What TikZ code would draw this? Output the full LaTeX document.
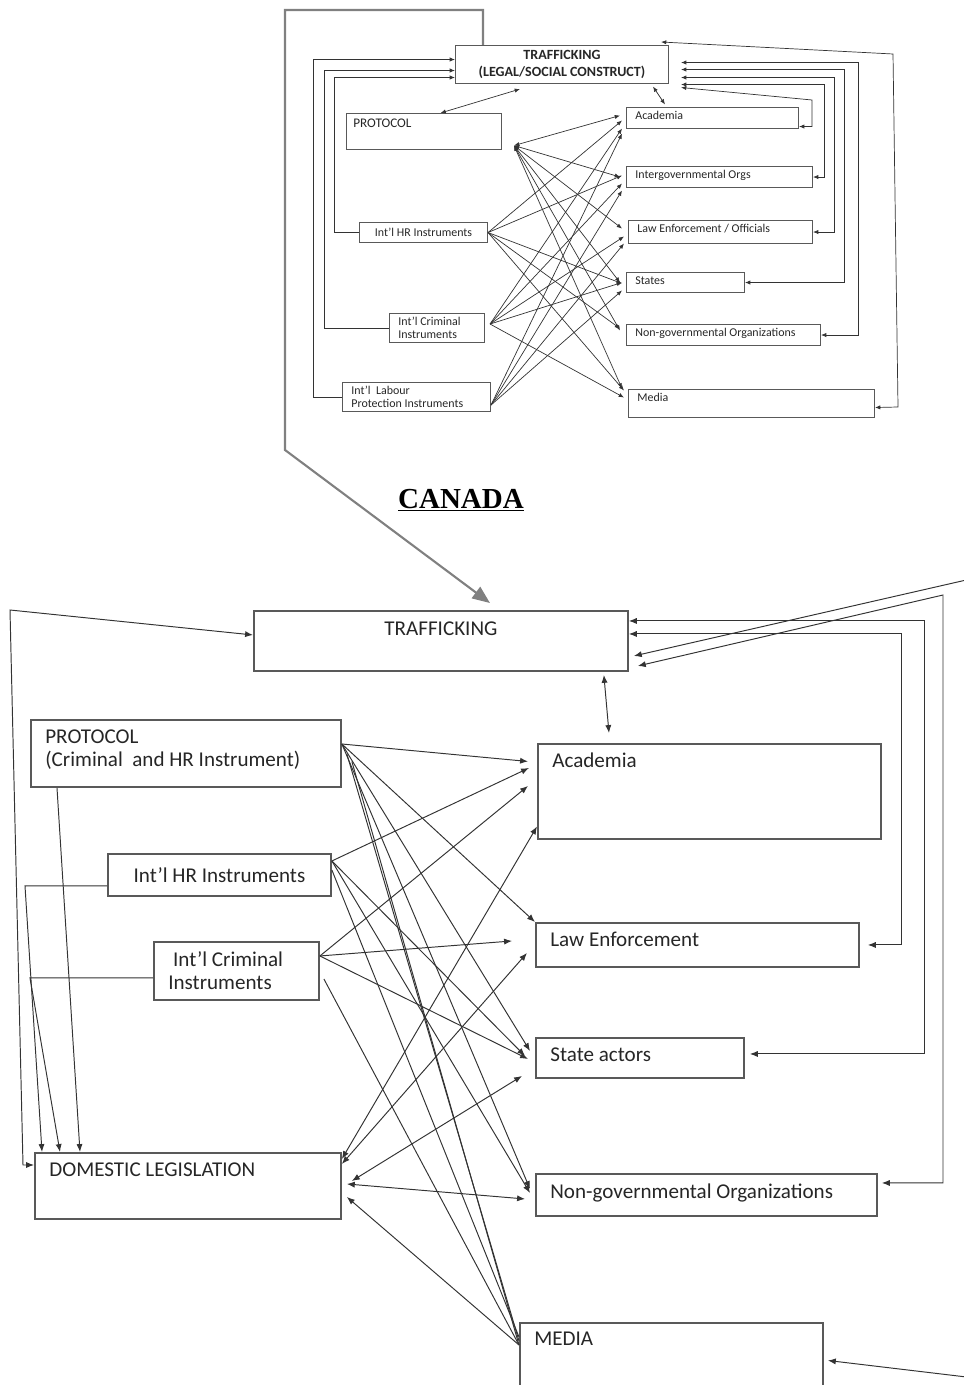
\documentclass[tikz,border=0pt]{standalone}
\usepackage{fontspec}
\setmainfont{Carlito}
\newfontfamily\titlefont{Liberation Serif}
\usetikzlibrary{arrows.meta, positioning}
\tikzstyle{box} = [draw=black!65, line width=1.1pt, anchor=north west, inner sep=0pt]
\tikzstyle{sbox} = [draw=black!65, line width=0.6pt, anchor=north west, inner sep=0pt]
\tikzstyle{txt} = [anchor=north west, inner xsep=0.3cm, inner ysep=0.2cm, align=left, text=black!85, font=\fontsize{12}{13.5}\selectfont]
\tikzstyle{stxt} = [anchor=north west, inner xsep=0.18cm, inner ysep=0.08cm, align=left, text=black!85, font=\fontsize{6.8}{7.2}\selectfont]
\tikzstyle{line} = [draw=black!80, line width=0.55pt]
\tikzstyle{arr} = [line, -{Latex[length=4.5pt, width=3.5pt]}]
\tikzstyle{dbl} = [line, {Latex[length=4.5pt, width=3.5pt]}-{Latex[length=4.5pt, width=3.5pt]}]
\tikzstyle{sarr} = [line, line width=0.4pt, -{Latex[length=3pt, width=2.4pt]}]
\tikzstyle{sdbl} = [line, line width=0.4pt, {Latex[length=3pt, width=2.4pt]}-{Latex[length=3pt, width=2.4pt]}]
\tikzstyle{bigarr} = [draw=black!50, line width=1.2pt, -{Triangle[length=10pt, width=8pt]}]

\begin{document}
\begin{tikzpicture}[x=0.02cm, y=-0.02cm]
	\useasboundingbox (0,0) rectangle (963,1385);

	% international level
	\node [sbox, minimum width=4.26cm, minimum height=0.76cm, label={[stxt, anchor=north, align=center, inner ysep=0.1cm, font=\fontsize{8}{9.5}\selectfont\bfseries]north:TRAFFICKING\\(LEGAL/SOCIAL CONSTRUCT)}] (t1) at (455,45) {};
	\node [sbox, minimum width=3.1cm, minimum height=0.72cm, label={[stxt, inner xsep=0.14cm, inner ysep=0.12cm, font=\fontsize{7.5}{9}\selectfont]north west:PROTOCOL}] (p1) at (346,113) {};
	\node [sbox, minimum width=2.56cm, minimum height=0.4cm, label={[stxt, anchor=center]center:Int’l HR Instruments}] (hr1) at (359,222) {};
	\node [sbox, minimum width=1.9cm, minimum height=0.58cm, label={[stxt]north west:Int’l Criminal\\Instruments}] (cr1) at (389,313) {};
	\node [sbox, minimum width=2.96cm, minimum height=0.58cm, label={[stxt]north west:Int’l\ \ Labour\\Protection Instruments}] (lb1) at (342,382) {};
	\node [sbox, minimum width=3.44cm, minimum height=0.42cm, label={[stxt]north west:Academia}] (ac1) at (626,107) {};
	\node [sbox, minimum width=3.72cm, minimum height=0.42cm, label={[stxt]north west:Intergovernmental Orgs}] (ig1) at (626,166) {};
	\node [sbox, minimum width=3.68cm, minimum height=0.46cm, label={[stxt]north west:Law Enforcement / Officials}] (le1) at (628,220) {};
	\node [sbox, minimum width=2.36cm, minimum height=0.4cm, label={[stxt]north west:States}] (st1) at (626,272) {};
	\node [sbox, minimum width=3.88cm, minimum height=0.42cm, label={[stxt]north west:Non-governmental Organizations}] (ng1) at (626,324) {};
	\node [sbox, minimum width=4.92cm, minimum height=0.56cm, label={[stxt]north west:Media}] (me1) at (628,389) {};
	\coordinate (hub) at ([xshift=0.24cm,yshift=-0.28cm]p1.east);

	\path [sarr] (lb1.west) -- ++(-29,0) |- ([yshift=0.1cm]t1.west);
	\path [sarr] (cr1.west) -- ++(-65,0) |- ([yshift=-0.12cm]t1.west);
	\path [sarr] (hr1.west) -- ++(-25,0) |- ([yshift=-0.26cm]t1.west);
	\path [sdbl] ([xshift=0.33cm]p1.north) -- ([xshift=1.3cm,yshift=-0.1cm]t1.south west);
	\path [sdbl] ([xshift=-0.32cm,yshift=-0.05cm]t1.south east) -- ([xshift=0.78cm,yshift=0.05cm]ac1.north west);
	\path [sdbl] ([xshift=0.24cm,yshift=-0.46cm]t1.east) -- (812,100) |- ([yshift=-0.17cm]ac1.east);
	\path [sdbl] ([xshift=0.24cm,yshift=-0.4cm]t1.east) -- ++(143,0) |- (ig1.east);
	\path [sdbl] ([xshift=0.24cm,yshift=-0.26cm]t1.east) -- ++(153,0) |- (le1.east);
	\path [sdbl] ([xshift=0.24cm,yshift=-0.1cm]t1.east) -- ++(163,0) |- (st1.east);
	\path [sdbl] ([xshift=0.24cm,yshift=0.04cm]t1.east) -- ++(177,0) |- (ng1.east);
	\path [sdbl] ([xshift=-0.16cm,yshift=0.06cm]t1.north east) -- (893,54) -- (898,407) -- ([yshift=-0.08cm]me1.east);

	\path [sdbl] (hub) -- ([xshift=-0.12cm,yshift=0.05cm]ac1.west);
	\path [sdbl] (hub) -- ([xshift=-0.12cm]ig1.west);
	\path [sdbl] (hub) -- ([xshift=-0.12cm,yshift=0.07cm]le1.west);
	\path [sdbl] (hub) -- ([xshift=-0.12cm]st1.west);
	\path [sdbl] (hub) -- ([xshift=-0.12cm,yshift=0.09cm]ng1.west);
	\path [sdbl] (hub) -- ([xshift=-0.12cm,yshift=0.3cm]me1.west);
	\path [sarr] (hr1.east) -- ([xshift=-0.08cm,yshift=-0.05cm]ac1.west);
	\path [sarr] (hr1.east) -- ([xshift=-0.08cm,yshift=0.03cm]ig1.west);
	\path [sarr] (hr1.east) -- ([xshift=-0.08cm,yshift=-0.02cm]st1.west);
	\path [sarr] (hr1.east) -- ([xshift=-0.12cm,yshift=0.13cm]ng1.west);
	\path [sarr] (hr1.east) -- ([xshift=-0.08cm,yshift=0.26cm]me1.west);
	\path [sarr] ([xshift=0.1cm,yshift=0.08cm]cr1.east) -- ([xshift=-0.08cm,yshift=-0.21cm]ac1.west);
	\path [sarr] ([xshift=0.1cm,yshift=0.08cm]cr1.east) -- ([xshift=-0.08cm,yshift=-0.13cm]ig1.west);
	\path [sarr] ([xshift=0.1cm,yshift=0.08cm]cr1.east) -- ([xshift=-0.08cm,yshift=-0.09cm]le1.west);
	\path [sarr] ([xshift=0.1cm,yshift=0.08cm]cr1.east) -- ([xshift=-0.08cm]st1.west);
	\path [sarr] ([xshift=0.1cm,yshift=0.08cm]cr1.east) -- ([xshift=-0.08cm,yshift=0.12cm]me1.west);
	\path [sarr] ([yshift=-0.16cm]lb1.east) -- ([xshift=-0.08cm,yshift=-0.31cm]ac1.west);
	\path [sarr] ([yshift=-0.16cm]lb1.east) -- ([xshift=-0.08cm,yshift=-0.27cm]ig1.west);
	\path [sarr] ([yshift=-0.16cm]lb1.east) -- ([xshift=-0.08cm,yshift=-0.23cm]le1.west);
	\path [sarr] ([yshift=-0.16cm]lb1.east) -- ([xshift=-0.08cm,yshift=-0.16cm]st1.west);

	% Canada
	\node [anchor=base, font=\titlefont\bfseries\fontsize{16.5}{20}\selectfont] (canada) at (461,508) {\underline{CANADA}};

	\node [box, minimum width=7.48cm, minimum height=1.2cm, label={[txt, anchor=north, inner ysep=0.22cm]north:TRAFFICKING}] (t2) at (253,610) {};
	\node [box, minimum width=6.2cm, minimum height=1.34cm, label={[txt]north west:PROTOCOL\\(Criminal\ \ and HR Instrument)}] (p2) at (30,719) {};
	\node [box, minimum width=4.46cm, minimum height=0.84cm, label={[txt, anchor=center]center:Int’l HR Instruments}] (hr2) at (107,853) {};
	\node [box, minimum width=3.3cm, minimum height=1.16cm, label={[txt]north west:\ Int’l Criminal\\Instruments}] (cr2) at (153,941) {};
	\node [box, minimum width=6.12cm, minimum height=1.32cm, label={[txt]north west:DOMESTIC LEGISLATION}] (dl) at (34,1152) {};
	\node [box, minimum width=6.86cm, minimum height=1.9cm, label={[txt]north west:Academia}] (ac2) at (537,743) {};
	\node [box, minimum width=6.46cm, minimum height=0.88cm, label={[txt]north west:Law Enforcement}] (le2) at (535,922) {};
	\node [box, minimum width=4.16cm, minimum height=0.8cm, label={[txt]north west:State actors}] (sa2) at (535,1037) {};
	\node [box, minimum width=6.82cm, minimum height=0.84cm, label={[txt]north west:Non-governmental Organizations}] (ng2) at (535,1173) {};
	\node [box, minimum width=6.06cm, minimum height=1.5cm, label={[txt]north west:MEDIA}] (me2) at (519,1322) {};
	\coordinate (ne) at (975,578);
	\coordinate (se) at (975,1378);

	\path [bigarr] ([xshift=0.56cm]t1.north west) -- ++(0,-35) -| (285,450) -- ([xshift=4.74cm,yshift=0.14cm]t2.north west);

	\path [dbl] ([xshift=-0.5cm,yshift=-0.06cm]t2.south east) -- ([xshift=1.44cm,yshift=0.2cm]ac2.north west);
	\path [dbl] ([yshift=0.14cm]t2.east) -- ++(273,0) |- ([xshift=0.16cm]le2.east);
	\path [dbl] ([yshift=0.4cm]t2.east) -- ++(296,0) |- ([xshift=0.1cm,yshift=0.08cm]sa2.east);
	\path [dbl] ([xshift=0.18cm,yshift=-0.5cm]t2.east) -- (943,595) |- ([xshift=0.08cm,yshift=0.24cm]ng2.east);
	\path [arr] (ne) -- ([xshift=0.1cm,yshift=-0.3cm]t2.east);
	\path [arr] (se) -- ([xshift=0.08cm]me2.east);

	\path [dbl] ([yshift=0.12cm]t2.west) -- (10,610) -- (23,1165) -- ([yshift=-0.26cm]dl.north west);
	\path [arr] ([yshift=-0.22cm]hr2.west) -- ++(-82,0) -- ([xshift=0.16cm]dl.north west);
	\path [arr] ([yshift=-0.14cm]cr2.west) -- ++(-123,0) -- ([xshift=0.52cm]dl.north west);
	\path [arr] ([xshift=0.54cm]p2.south west) -- ([xshift=0.92cm]dl.north west);

	\path [arr] ([yshift=-0.5cm]p2.north east) -- ([xshift=-0.18cm,yshift=0.6cm]ac2.west);
	\path [arr] ([yshift=-0.5cm]p2.north east) -- (le2.north west);
	\path [arr] ([yshift=-0.5cm]p2.north east) -- ([xshift=-0.1cm,yshift=0.14cm]sa2.west);
	\path [arr] ([yshift=-0.5cm]p2.north east) -- ([xshift=-0.1cm,yshift=0.12cm]ng2.west);
	\path [line] ([xshift=0.1cm,yshift=-0.7cm]p2.north east) -- ([yshift=-0.38cm]me2.north west);
	\path [line] ([xshift=0.2cm,yshift=-0.85cm]p2.north east) -- ([yshift=-0.46cm]me2.north west);
	\path [arr] ([yshift=0.28cm]hr2.east) -- ([xshift=-0.16cm,yshift=0.47cm]ac2.west);
	\path [arr] ([yshift=0.28cm]hr2.east) -- ([xshift=-0.2cm,yshift=0.04cm]sa2.west);
	\path [arr] ([yshift=0.28cm]hr2.east) -- ([xshift=-0.1cm,yshift=0.04cm]ng2.west);
	\path [line] ([yshift=0.1cm]hr2.east) -- ([yshift=-0.3cm]me2.north west);
	\path [arr] ([yshift=0.3cm]cr2.east) -- ([xshift=-0.18cm,yshift=0.11cm]ac2.west);
	\path [arr] ([yshift=0.3cm]cr2.east) -- ([xshift=-0.46cm,yshift=0.08cm]le2.west);
	\path [arr] ([yshift=0.3cm]cr2.east) -- ([xshift=-0.14cm,yshift=-0.02cm]sa2.west);
	\path [line] ([xshift=0.08cm,yshift=-0.16cm]cr2.east) -- ([yshift=-0.46cm]me2.north west);
	\path [dbl] ([yshift=0.54cm]dl.east) -- ([yshift=-0.7cm]ac2.west);
	\path [dbl] ([yshift=0.44cm]dl.east) -- ([xshift=-0.16cm,yshift=-0.16cm]le2.west);
	\path [dbl] ([xshift=0.2cm,yshift=0.1cm]dl.east) -- ([xshift=-0.26cm,yshift=-0.36cm]sa2.west);
	\path [dbl] ([xshift=0.1cm,yshift=0.04cm]dl.east) -- ([xshift=-0.2cm,yshift=-0.08cm]ng2.west);
	\path [arr] ([yshift=-0.46cm]me2.north west) -- ([xshift=0.1cm,yshift=-0.22cm]dl.east);
\end{tikzpicture}
\end{document}
